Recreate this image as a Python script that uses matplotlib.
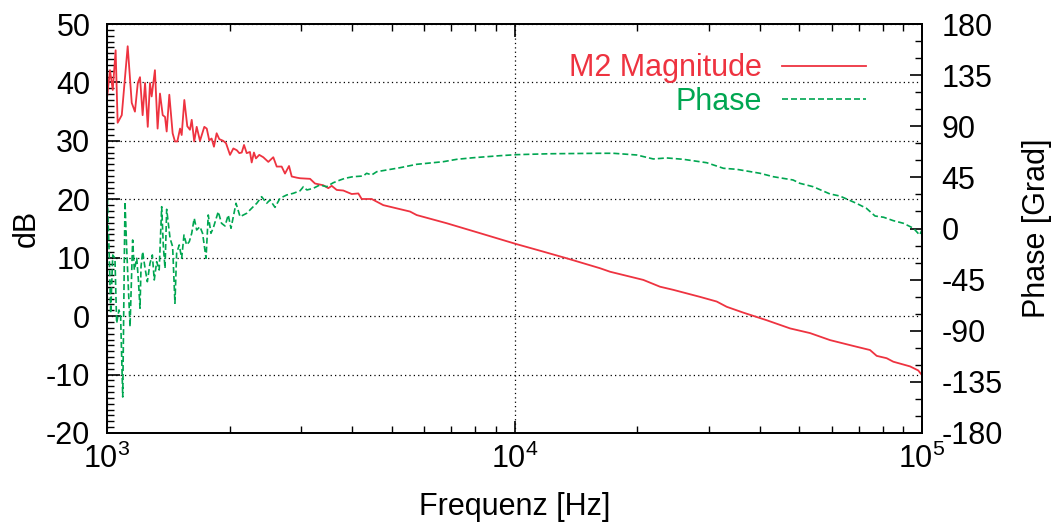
import matplotlib
matplotlib.use('Agg')
import matplotlib.pyplot as plt
from matplotlib.ticker import FixedLocator, LogLocator, NullFormatter

plt.rcParams['font.family'] = ['Liberation Sans', 'DejaVu Sans']
plt.rcParams['mathtext.fontset'] = 'custom'
plt.rcParams['mathtext.rm'] = 'Liberation Sans'
plt.rcParams['mathtext.it'] = 'Liberation Sans'

# magnitude curve (Hz, dB)
mag_freq = [1002, 1017, 1033, 1050, 1062, 1087, 1124, 1150, 1171, 1190, 1205, 1223,
            1240, 1259, 1275, 1287, 1311, 1331, 1349, 1370, 1388, 1401, 1422, 1449,
            1468, 1488, 1511, 1525, 1548, 1574, 1598, 1614, 1637, 1660, 1691, 1733,
            1757, 1782, 1806, 1830, 1858, 1886, 1929, 1959, 2004, 2042, 2082, 2112,
            2141, 2169, 2202, 2243, 2265, 2294, 2320, 2364, 2418, 2488, 2559, 2609,
            2683, 2734, 2797, 2840, 2922, 2977, 3150, 3239, 3395, 3492, 3560, 3662,
            3801, 3986, 4138, 4217, 4462, 4764, 5542, 5754, 6818, 8229, 10086, 11550,
            13430, 16210, 17160, 20710, 22750, 24530, 28520, 31350, 33170, 36440,
            41580, 47450, 53120, 59460, 67830, 74550, 77420, 81900, 85040, 93460,
            97920, 100000]
mag_db = [37.85, 42.1, 38.7, 45.5, 33.1, 34.4, 46.2, 36.5, 35.0, 39.9, 40.9, 34.4,
          39.9, 32.4, 39.9, 37.6, 42.1, 32.1, 38.1, 34.4, 34.1, 31.6, 37.9, 31.3,
          29.9, 29.9, 32.1, 31.0, 37.0, 32.5, 31.9, 33.6, 29.9, 32.4, 30.0, 32.4,
          32.1, 30.1, 30.4, 29.0, 31.3, 30.3, 30.0, 29.6, 27.6, 28.7, 28.4, 27.9,
          28.0, 29.3, 27.9, 28.1, 26.3, 28.0, 27.0, 27.6, 27.2, 26.4, 27.2, 25.6,
          25.6, 24.4, 25.7, 23.9, 23.7, 23.6, 23.5, 22.7, 22.4, 21.9, 22.3, 21.6,
          21.5, 20.9, 21.0, 20.05, 20.05, 19.0, 17.9, 17.3, 15.9, 14.2, 12.35, 11.2,
          9.9, 8.2, 7.6, 6.2, 5.04, 4.5, 3.3, 2.5, 1.6, 0.6,
          -0.7, -2.1, -2.9, -4.1, -5.1, -5.8, -6.8, -7.2, -7.8, -8.6,
          -9.3, -10.1]

# phase curve (Hz, degrees)
ph_freq = [1002, 1013, 1021, 1033, 1046, 1056, 1070, 1080, 1093, 1107, 1118, 1139,
           1156, 1167, 1183, 1194, 1205, 1212, 1223, 1240, 1256, 1275, 1292, 1306,
           1324, 1343, 1362, 1375, 1388, 1401, 1428, 1449, 1468, 1482, 1504, 1525,
           1545, 1568, 1592, 1614, 1637, 1660, 1691, 1716, 1750, 1772, 1799, 1822,
           1875, 1910, 1948, 1984, 2015, 2073, 2121, 2202, 2285, 2331, 2396, 2465,
           2512, 2584, 2657, 2760, 2866, 2977, 3034, 3094, 3209, 3328, 3458, 3592,
           3735, 3838, 4015, 4255, 4336, 4462, 4592, 5234, 5754, 6688, 7219, 7924,
           9222, 10130, 12220, 16210, 17480, 19960, 21910, 23640, 25960, 29630,
           32560, 35090, 40040, 43140, 48270, 50120, 54040, 59460, 62860, 69010,
           73030, 76690, 80520, 85040, 90000, 95320, 98660, 100000]
ph_deg = [26.6, -24.8, -74.6, -23.3, -26.2, -83.4, -71.7, -77.6, -148.3, 23.6, -18.9, -86.4,
          -10.1, -36.5, -26.2, -45.3, -70.2, -33.6, -20.4, -35.0, -46.8, -30.6, -23.3, -45.3,
          -29.2, -36.5, 19.2, -16.0, -35.0, 16.9, -8.6, -16.0, -65.8, -21.8, -14.5, -26.2,
          -5.7, -14.5, -11.6, -4.2, 9.0, -1.3, 1.6, -4.2, -26.2, 11.9, -4.2, 0.2,
          14.8, 4.6, 2.2, 11.9, 0.2, 22.2, 10.4, 13.4, 19.2, 22.2, 28.0, 22.2,
          25.1, 18.6, 26.6, 29.5, 31.0, 33.2, 36.8, 33.9, 35.4, 38.3, 36.8, 40.3,
          42.7, 44.2, 45.6, 46.2, 48.6, 47.1, 50.0, 53.5, 56.5, 58.8, 60.9, 62.3,
          64.1, 65.0, 65.8, 66.2, 66.2, 64.7, 61.2, 62.1, 60.9, 57.9,
          53.0, 52.1, 48.6, 45.6, 42.7, 39.8, 36.8, 30.4, 28.6, 22.2,
          17.8, 11.0, 9.9, 6.9, 4.6, 0.2, -5.7, -1.3]

db_ticks = [-20, -10, 0, 10, 20, 30, 40, 50]
deg_ticks = [-180, -135, -90, -45, 0, 45, 90, 135, 180]

RED = '#ee3340'
GREEN = '#00a651'
FS = 22

fig = plt.figure(figsize=(10.52, 5.26), dpi=100)
ax = fig.add_axes([107 / 1052, 93 / 526, 815 / 1052, 409 / 526])
ax2 = ax.twinx()

ax.set_xscale('log')
ax.set_xlim(1e3, 1e5)
ax.set_ylim(-20, 50)
ax2.set_ylim(-180, 180)

ax.xaxis.set_major_locator(FixedLocator([1e3, 1e4, 1e5]))
ax.xaxis.set_minor_locator(LogLocator(base=10, subs=range(2, 10)))
ax.xaxis.set_minor_formatter(NullFormatter())
ax.set_xticklabels([r'$10^{3}$', r'$10^{4}$', r'$10^{5}$'])
ax.yaxis.set_major_locator(FixedLocator(db_ticks))
ax.yaxis.set_minor_locator(FixedLocator(range(-20, 51)))
ax.set_yticklabels([str(t) for t in db_ticks])
ax2.yaxis.set_major_locator(FixedLocator(deg_ticks))
ax2.yaxis.set_minor_locator(FixedLocator(range(-180, 181, 15)))
ax2.set_yticklabels([str(t) for t in deg_ticks])

ax.tick_params(axis='x', which='both', direction='in', top=True, labelsize=FS, pad=8)
ax.tick_params(axis='y', which='both', direction='in', right=False, labelsize=FS, pad=12)
ax2.tick_params(axis='y', which='both', direction='in', labelsize=FS, pad=14)
for a in (ax, ax2):
    a.tick_params(which='major', length=9, width=1.2)
    a.tick_params(which='minor', length=5, width=1.0)
    for s in a.spines.values():
        s.set_linewidth(1.3)

ax.grid(True, which='major', color='black', linestyle=(0, (1, 2.5)), linewidth=0.9)

l1, = ax.plot(mag_freq, mag_db, color=RED, linewidth=1.3, label='M2 Magnitude')
l2, = ax2.plot(ph_freq, ph_deg, color=GREEN, linewidth=1.2,
               linestyle=(0, (3.6, 1.8)), label='Phase')

ax.set_xlabel('Frequenz [Hz]', fontsize=FS, labelpad=12)
ax.set_ylabel('dB', fontsize=FS, labelpad=3)
ax2.set_ylabel('Phase [Grad]', fontsize=FS, labelpad=14)

leg = ax2.legend(handles=[l1, l2], loc='upper right', bbox_to_anchor=(0.931, 0.928),
                 frameon=False, fontsize=FS, markerfirst=False, handlelength=2.75,
                 handletextpad=0.65, labelspacing=0.1, borderpad=0, borderaxespad=0)
for txt, line in zip(leg.get_texts(), [l1, l2]):
    txt.set_color(line.get_color())

fig.savefig('out.png', dpi=100)
